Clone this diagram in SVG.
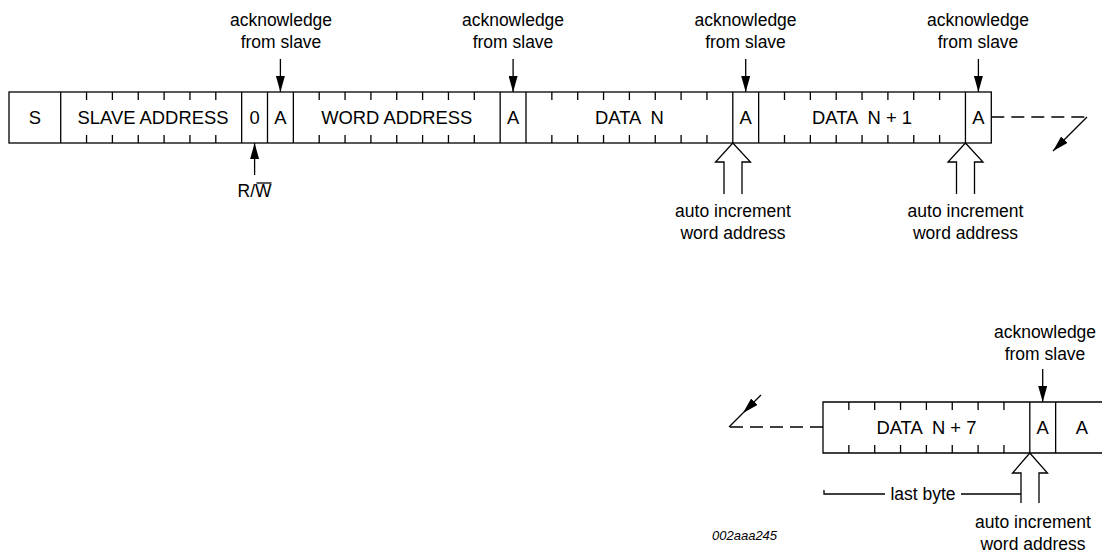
<svg xmlns="http://www.w3.org/2000/svg" width="1102" height="552" viewBox="0 0 1102 552">
<style>
.b{fill:#fff;stroke:#000;stroke-width:1.3}
.l{stroke:#000;stroke-width:1.3;fill:none}
.t{font-family:"Liberation Sans",Arial,sans-serif;font-size:17.5px;fill:#000;text-anchor:middle;white-space:pre}
.c{font-size:18.4px}
.d{stroke:#000;stroke-width:1.3;fill:none;stroke-dasharray:13 7}
.h{fill:#fff;stroke:#000;stroke-width:1.3;stroke-linejoin:miter}
.id{font-family:"Liberation Sans",Arial,sans-serif;font-size:13px;font-style:italic;fill:#000}
</style>
<defs>
<marker id="ah" markerUnits="userSpaceOnUse" markerWidth="16" markerHeight="9" refX="16" refY="4.5" orient="auto" viewBox="0 0 16 9">
<path d="M0,0 L16,4.5 L0,9 z" fill="#000"/>
</marker>
</defs>

<!-- Top frame -->
<g id="top-frame">
<rect class="b" x="9" y="92" width="982.3" height="51"/>
<path class="l" d="M60.7,92V143 M241.65,92V143 M267.5,92V143 M293.35,92V143 M500.15,92V143 M526,92V143 M732.8,92V143 M758.65,92V143 M965.45,92V143"/>
<path class="l" d="M86.55,92v8M112.4,92v8M138.25,92v8M164.1,92v8M189.95,92v8M215.8,92v8
M86.55,143v-8M112.4,143v-8M138.25,143v-8M164.1,143v-8M189.95,143v-8M215.8,143v-8"/>
<path class="l" d="M319.2,92v8M345.05,92v8M370.9,92v8M396.75,92v8M422.6,92v8M448.45,92v8M474.3,92v8
M319.2,143v-8M345.05,143v-8M370.9,143v-8M396.75,143v-8M422.6,143v-8M448.45,143v-8M474.3,143v-8"/>
<path class="l" d="M551.85,92v8M577.7,92v8M603.55,92v8M629.4,92v8M655.25,92v8M681.1,92v8M706.95,92v8
M551.85,143v-8M577.7,143v-8M603.55,143v-8M629.4,143v-8M655.25,143v-8M681.1,143v-8M706.95,143v-8"/>
<path class="l" d="M784.5,92v8M810.35,92v8M836.2,92v8M862.05,92v8M887.9,92v8M913.75,92v8M939.6,92v8
M784.5,143v-8M810.35,143v-8M836.2,143v-8M862.05,143v-8M887.9,143v-8M913.75,143v-8M939.6,143v-8"/>
</g>
<g id="cell-S"><text class="t c" x="34.85" y="123.5">S</text></g>
<g id="cell-slave-address"><text class="t c" x="153" y="123.5">SLAVE ADDRESS</text></g>
<g id="cell-0"><text class="t c" x="254.6" y="123.5">0</text></g>
<g id="cell-A1"><text class="t c" x="280.4" y="123.5">A</text></g>
<g id="cell-word-address"><text class="t c" x="396.75" y="123.5">WORD ADDRESS</text></g>
<g id="cell-A2"><text class="t c" x="513.1" y="123.5">A</text></g>
<g id="cell-data-n"><text class="t c" x="629.4" y="123.5" xml:space="preserve">DATA  N</text></g>
<g id="cell-A3"><text class="t c" x="745.7" y="123.5">A</text></g>
<g id="cell-data-n1"><text class="t c" x="862.05" y="123.5" xml:space="preserve">DATA  N + 1</text></g>
<g id="cell-A4"><text class="t c" x="978.4" y="123.5">A</text></g>

<!-- Bottom frame -->
<g id="bottom-frame">
<path class="l" d="M1108,402H823V453H1108 M1029.8,402V453 M1055.65,402V453"/>
<path class="l" d="M848.85,402v8M874.7,402v8M900.55,402v8M926.4,402v8M952.25,402v8M978.1,402v8M1003.95,402v8
M848.85,453v-8M874.7,453v-8M900.55,453v-8M926.4,453v-8M952.25,453v-8M978.1,453v-8M1003.95,453v-8"/>
</g>
<g id="cell-data-n7"><text class="t c" x="926.4" y="433.5" xml:space="preserve">DATA  N + 7</text></g>
<g id="cell-A5"><text class="t c" x="1042.7" y="433.5">A</text></g>
<g id="cell-A6"><text class="t c" x="1082" y="433.5">A</text></g>

<!-- Labels -->
<g id="ack1"><text class="t" x="281" y="26">acknowledge</text><text class="t" x="281" y="48">from slave</text></g>
<g id="ack2"><text class="t" x="513" y="26">acknowledge</text><text class="t" x="513" y="48">from slave</text></g>
<g id="ack3"><text class="t" x="745.5" y="26">acknowledge</text><text class="t" x="745.5" y="48">from slave</text></g>
<g id="ack4"><text class="t" x="978" y="26">acknowledge</text><text class="t" x="978" y="48">from slave</text></g>
<g id="ack5"><text class="t" x="1045" y="338">acknowledge</text><text class="t" x="1045" y="360">from slave</text></g>
<g id="rw"><text class="t" x="254.6" y="197">R/W</text><line class="l" x1="256.5" y1="183" x2="271.5" y2="183"/></g>
<g id="inc1"><text class="t" x="733" y="217">auto increment</text><text class="t" x="733" y="239">word address</text></g>
<g id="inc2"><text class="t" x="965.5" y="217">auto increment</text><text class="t" x="965.5" y="239">word address</text></g>
<g id="inc3"><text class="t" x="1033" y="528">auto increment</text><text class="t" x="1033" y="550">word address</text></g>
<g id="lastbyte"><text class="t" x="923" y="500">last byte</text></g>
<g id="fig-id"><text class="id" x="712" y="540">002aaa245</text></g>

<!-- Connectors -->
<g id="connectors">
<line class="l" x1="280.4" y1="59" x2="280.4" y2="92" marker-end="url(#ah)"/>
<line class="l" x1="513.1" y1="59" x2="513.1" y2="92" marker-end="url(#ah)"/>
<line class="l" x1="745.7" y1="59" x2="745.7" y2="92" marker-end="url(#ah)"/>
<line class="l" x1="978.4" y1="59" x2="978.4" y2="92" marker-end="url(#ah)"/>
<line class="l" x1="1042.7" y1="369" x2="1042.7" y2="402" marker-end="url(#ah)"/>
<line class="l" x1="254.6" y1="175" x2="254.6" y2="143" marker-end="url(#ah)"/>
<polyline class="h" points="724,194 724,162 715.5,162 732.8,143 750.5,162 742,162 742,194"/>
<polyline class="h" points="956.5,194 956.5,162 948,162 965.45,143 983,162 974.5,162 974.5,194"/>
<polyline class="h" points="1021,503 1021,473 1012.5,473 1029.8,453 1047.5,473 1039,473 1039,503"/>
<line class="d" x1="991.3" y1="117" x2="1087" y2="117"/>
<line class="l" x1="1087" y1="117" x2="1053" y2="151" marker-end="url(#ah)"/>
<line class="d" x1="823" y1="427" x2="729" y2="427"/>
<line class="l" x1="761" y1="395" x2="743" y2="413" marker-end="url(#ah)"/>
<line class="l" x1="743" y1="413" x2="729" y2="427"/>
<path class="l" d="M824,490V494H885 M961,494H1021"/>
</g>
</svg>
